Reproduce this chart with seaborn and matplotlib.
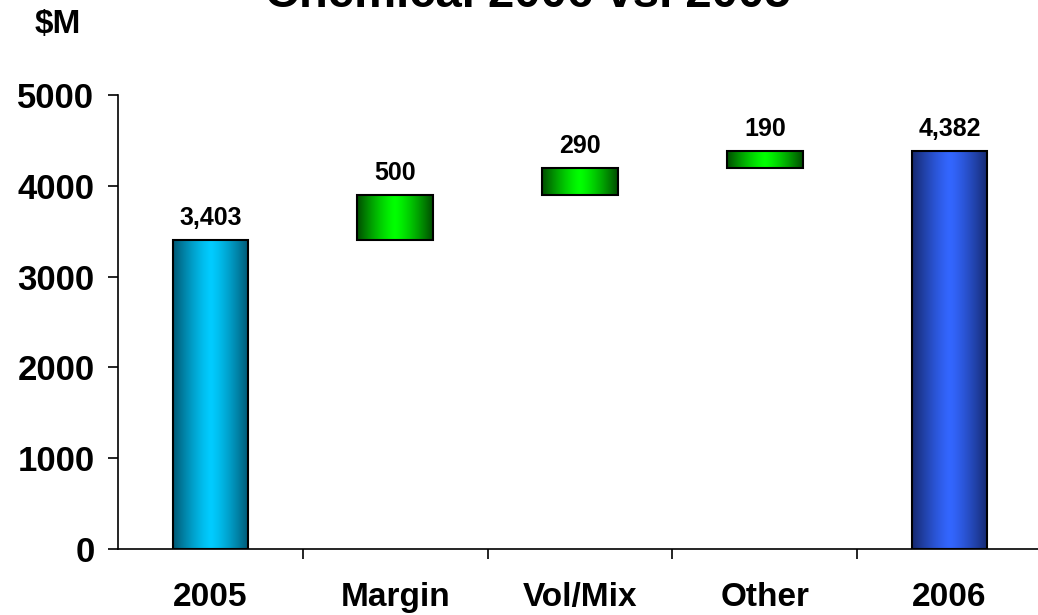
import numpy as np
import pandas as pd
import matplotlib.pyplot as plt
import matplotlib.colors as mcolors
import seaborn as sns

sns.set_theme(style="white")
plt.rcParams["font.family"] = ["Liberation Sans", "DejaVu Sans"]
plt.rcParams["font.weight"] = "bold"
plt.rcParams["text.color"] = "black"
plt.rcParams["xtick.color"] = "black"
plt.rcParams["ytick.color"] = "black"
plt.rcParams["xtick.labelcolor"] = "black"
plt.rcParams["ytick.labelcolor"] = "black"

# --- данные ---
categories = ["2005", "Margin", "Vol/Mix", "Other", "2006"]
changes = [3403, 500, 290, 190, 4382]
is_total = [True, False, False, False, True]
labels = ["3,403", "500", "290", "190", "4,382"]

# нижняя граница и верх каждого столбца (водопад)
bottoms = []
running = 0
for val, tot in zip(changes, is_total):
    if tot:
        bottoms.append(0)
        running = val
    else:
        bottoms.append(running)
        running += val
tops = [b + v for b, v in zip(bottoms, changes)]

df = pd.DataFrame({"cat": categories, "top": tops, "bottom": bottoms, "height": changes})

# цвета: (край, центр)
grad_colors = {
    "2005": ("#005874", "#00CCFF"),
    "Margin": ("#004d00", "#00FF00"),
    "Vol/Mix": ("#004d00", "#00FF00"),
    "Other": ("#004d00", "#00FF00"),
    "2006": ("#15296e", "#3366FF"),
}

fig = plt.figure(figsize=(10.38, 6.15), dpi=100)
ax = fig.add_axes([118 / 1038, 1 - 549 / 615, (1042 - 118) / 1038, (549 - 95) / 615])

sns.barplot(data=df, x="cat", y="top", ax=ax, width=0.41, color="white",
            edgecolor="black", linewidth=1.5, order=categories)

t = np.linspace(-1, 1, 256)
w = np.abs(t) ** 1.3
for patch, cat, b, h, lab in zip(ax.patches, categories, bottoms, changes, labels):
    patch.set_y(b)
    patch.set_height(h)
    patch.set_facecolor("none")
    patch.set_zorder(3)
    edge, center = grad_colors[cat]
    cmap = mcolors.LinearSegmentedColormap.from_list(cat, [center, edge])
    x0 = patch.get_x()
    x1 = x0 + patch.get_width()
    im = ax.imshow(w[np.newaxis, :], cmap=cmap, aspect="auto",
                   extent=[x0, x1, b, b + h], zorder=2, vmin=0, vmax=1)
    im.set_clip_path(patch)
    ax.text(x0 + patch.get_width() / 2, b + h + 110, lab, ha="center", va="bottom",
            fontsize=18, fontweight="bold", color="black")

ax.set_xlim(-0.5, 4.5)
ax.set_ylim(0, 5000)
ax.set_yticks([0, 1000, 2000, 3000, 4000, 5000])
ax.tick_params(axis="y", which="major", direction="out", length=7, width=1.2,
               labelsize=25, pad=10, left=True, color="black")
for lbl in ax.get_yticklabels():
    lbl.set_fontweight("bold")

# деления по границам категорий, подписи по центрам
ax.set_xticks([0.5, 1.5, 2.5, 3.5])
ax.set_xticklabels([])
ax.tick_params(axis="x", which="major", direction="out", length=7, width=1.2,
               bottom=True, color="black")
ax.set_xticks(range(len(categories)), minor=True)
ax.set_xticklabels(categories, minor=True, fontsize=24, fontweight="bold")
ax.tick_params(axis="x", which="minor", length=0, pad=24)

ax.set_xlabel("")
ax.set_ylabel("")
for side in ["top", "right"]:
    ax.spines[side].set_visible(False)
for side in ["left", "bottom"]:
    ax.spines[side].set_color("black")
    ax.spines[side].set_linewidth(1.2)
ax.grid(False)

fig.text(528 / 1038, 1 - 7 / 615, "Chemical 2006 vs. 2005", ha="center", va="baseline",
         fontsize=34, fontweight="bold")
fig.text(58 / 1038, 1 - 25 / 615, "$M", ha="center", va="center",
         fontsize=24, fontweight="bold")

fig.savefig("out.png", dpi=100)
